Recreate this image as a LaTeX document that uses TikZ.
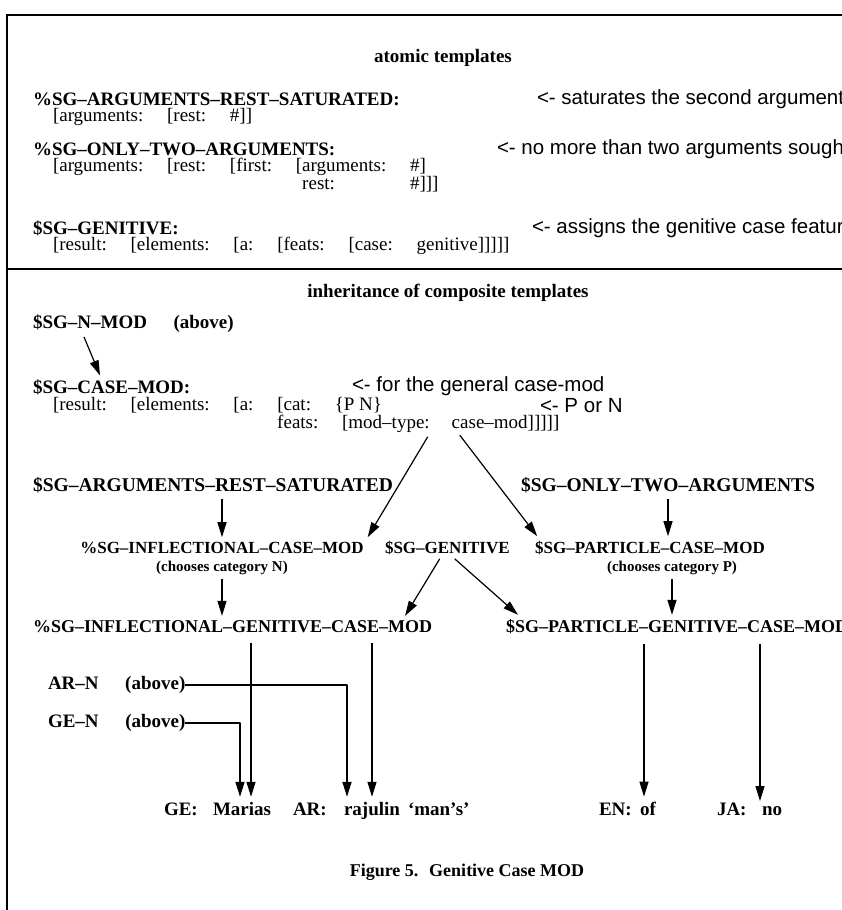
\documentclass[tikz,border=0pt]{standalone}
\usepackage{fontspec}
\setmainfont{Liberation Serif}
\newfontfamily\notefont{Liberation Sans}
\usetikzlibrary{arrows.meta,positioning}
\newcommand{\gp}{\hspace{1.25em}}
\begin{document}
\begin{tikzpicture}[x=1pt,y=-1pt,line join=round,
    every node/.style={inner sep=0pt,outer sep=0pt},
    tname/.style={font=\fontsize{19}{19}\selectfont\bfseries,anchor=west},
    bname/.style={font=\fontsize{19.5}{19.5}\selectfont\bfseries,anchor=west},
    lname/.style={font=\fontsize{18}{18}\selectfont\bfseries,anchor=west},
    small/.style={font=\fontsize{17}{17}\selectfont\bfseries},
    tiny/.style={font=\fontsize{15}{15}\selectfont\bfseries},
    head/.style={font=\fontsize{19}{19}\selectfont\bfseries},
    avm/.style={font=\fontsize{19}{19}\selectfont,anchor=west},
    note/.style={font=\notefont\fontsize{20.5}{20.5}\selectfont,anchor=west},
    word/.style={font=\fontsize{19}{19}\selectfont\bfseries,anchor=base west},
    arr/.style={-{Triangle[length=15pt,width=9pt]},line width=1.2pt},
    rule/.style={line width=2.4pt}]
  \useasboundingbox (0,0) rectangle (842,910);
  \fill[white] (0,0) rectangle (842,910);
  \clip (0,0) rectangle (842,910);
  % frame
  \draw[rule] (6,15) -- (842,15);
  \draw[rule] (7,14) -- (7,910);
  \draw[rule] (7,269) -- (842,269);
  % atomic templates
  \node[head] (atomic) at (443,58) {atomic templates};
  \node[tname] (ars) at (33,99) {\%SG--ARGUMENTS--REST--SATURATED:};
  \node[avm] (ars-f) at (53,117) {[arguments:\gp[rest:\gp\#]]};
  \node[note] (ars-n) at (537,99) {<- saturates the second argument};
  \node[tname] (only) at (33,149) {\%SG--ONLY--TWO--ARGUMENTS:};
  \node[avm] (only-f) at (53,167) {[arguments:\gp[rest:\gp[first:\gp[arguments:\gp\#]};
  \node[avm] (only-r) at (53,185) {\phantom{[arguments:\gp[rest:\gp[first:\gp[}\rlap{rest:}\phantom{arguments:}\gp\#]]]};
  \node[note] (only-n) at (497,149) {<- no more than two arguments sought};
  \node[tname] (gen) at (33,228) {\$SG--GENITIVE:};
  \node[avm] (gen-f) at (53,246) {[result:\gp[elements:\gp[a:\gp[feats:\gp[case:\gp genitive]]]]]};
  \node[note] (gen-n) at (532,228) {<- assigns the genitive case feature};
  % composite templates
  \node[head] (inher) at (448,293) {inheritance of composite templates};
  \node[tname] (nmod) at (33,324) {\$SG--N--MOD\hspace{1.4em}(above)};
  \node[tname] (cmod) at (33,387) {\$SG--CASE--MOD:};
  \node[note] (cmod-n) at (352,386) {<- for the general case-mod};
  \node[avm] (cmod-f) at (53,405) {[result:\gp[elements:\gp[a:\gp[cat:\gp\{P N\}};
  \node[note] (cmod-p) at (540,406) {<- P or N};
  \node[avm] (feat1) at (53,424) {\phantom{[result:\gp[elements:\gp[a:\gp}feats:\gp[mod--type:};
  \node[avm,anchor=base west] (feat2) at ([xshift=22pt]feat1.base east) {case--mod]]]]]};
  \node[bname] (ars2) at (33,485) {\$SG--ARGUMENTS--REST--SATURATED};
  \node[bname] (only2) at (521,485) {\$SG--ONLY--TWO--ARGUMENTS};
  \node[small] (infl) at (222,548) {\%SG--INFLECTIONAL--CASE--MOD};
  \node[small,anchor=west] (geni) at (385,548) {\$SG--GENITIVE};
  \node[small] (part) at (650,548) {\$SG--PARTICLE--CASE--MOD};
  \node[tiny] (chn) at (222,568) {(chooses category N)};
  \node[tiny] (chp) at (672,568) {(chooses category P)};
  \node[lname] (igcm) at (33,627) {\%SG--INFLECTIONAL--GENITIVE--CASE--MOD};
  \node[lname] (pgcm) at (506,627) {\$SG--PARTICLE--GENITIVE--CASE--MOD};
  \node[tname] (arn) at (48,685) {AR--N\hspace{1.4em}(above)};
  \node[tname] (gen2) at (48,723) {GE--N\hspace{1.4em}(above)};
  % words
  \node[word] (ge) at (164,815) {GE:};
  \node[word] (marias) at (213,815) {Marias};
  \node[word] (ar) at (293,815) {AR:};
  \node[word] (rajulin) at (344,815) {rajulin};
  \node[word] (mans) at (408,815) {`man's'};
  \node[word] (en) at (599,815) {EN:};
  \node[word] (of) at (640,815) {of};
  \node[word] (ja) at (717,815) {JA:};
  \node[word] (no) at (762,815) {no};
  \node[head,font=\fontsize{18}{18}\selectfont\bfseries] (cap) at (467,872) {Figure 5.\hspace{0.6em}Genitive Case MOD};
  % arrows
  \draw[arr] ([xshift=51pt,yshift=-4pt]nmod.south west) -- ([xshift=67pt,yshift=4pt]cmod.north west);
  \draw[arr] ([xshift=-2pt,yshift=-4pt]feat1.south east) -- ([xshift=4pt,yshift=5pt]infl.north east);
  \draw[arr] ([xshift=8pt,yshift=-4pt]feat2.south west) -- ([xshift=2pt,yshift=5pt]part.north west);
  \draw[arr] ([yshift=-6pt]ars2.south -| infl.north) -- ([yshift=5pt]infl.north);
  \draw[arr] ([yshift=-6pt]only2.south) -- ([yshift=5pt]only2.south |- part.north);
  \draw[arr] ([xshift=-70pt,yshift=-4pt]geni.south east) -- ([xshift=-27pt,yshift=5pt]igcm.north east);
  \draw[arr] ([xshift=-55pt,yshift=-4pt]geni.south east) -- ([xshift=12pt,yshift=5pt]pgcm.north west);
  \draw[arr] ([yshift=-4pt]chn.south -| infl.north) -- ([yshift=5pt]infl.north |- igcm.north);
  \draw[arr] ([yshift=-4pt]chp.south) -- ([yshift=5pt]chp.south |- pgcm.north);
  \coordinate (igb) at ([yshift=-10pt]igcm.south);
  \coordinate (pgb) at ([yshift=-10pt]pgcm.south);
  \coordinate (m1) at ([xshift=27pt,yshift=5pt]marias.north west);
  \coordinate (m2) at ([xshift=38pt,yshift=5pt]marias.north west);
  \coordinate (r1) at ([xshift=3pt,yshift=5pt]rajulin.north west);
  \coordinate (r2) at ([xshift=28pt,yshift=5pt]rajulin.north west);
  \coordinate (o1) at ([xshift=4pt,yshift=5pt]of.north west);
  \coordinate (n1) at ([xshift=-2pt,yshift=5pt]no.north west);
  \foreach \p in {m2,r2} \draw[arr] (igb -| \p) -- (\p);
  \foreach \p in {o1,n1} \draw[arr] (pgb -| \p) -- (\p);
  \draw[arr,line width=1.6pt] (arn.east) -- (arn.east -| r1) -- (r1);
  \draw[arr,line width=1.6pt] (gen2.east) -- (gen2.east -| m1) -- (m1);
\end{tikzpicture}
\end{document}
